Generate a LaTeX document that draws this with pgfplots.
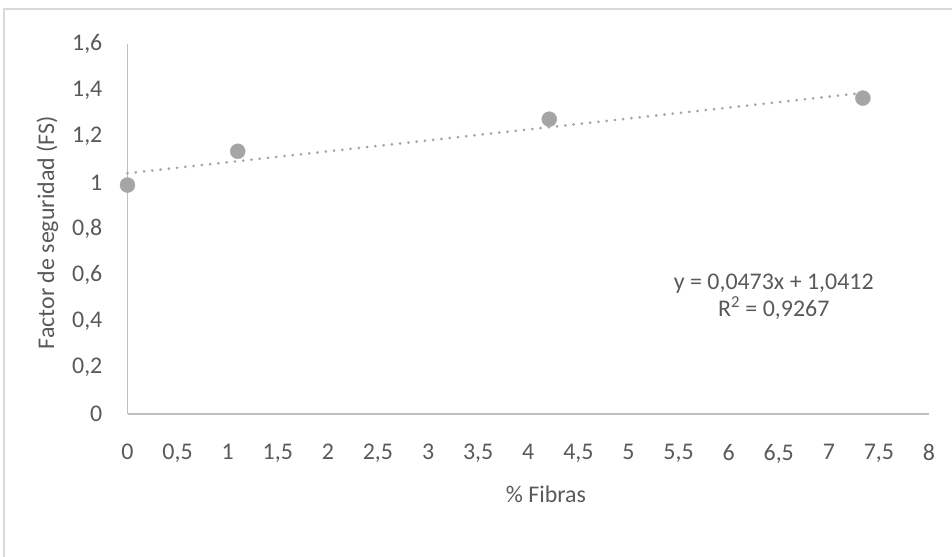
\documentclass[border=0pt]{standalone}
\usepackage{pgfplots}
\pgfplotsset{compat=1.18}
\usepackage{fontspec}
\setmainfont{Carlito}
\definecolor{txt}{RGB}{89,89,89}
\definecolor{axl}{RGB}{191,191,191}
\definecolor{frm}{RGB}{217,217,217}
\definecolor{pt}{RGB}{165,165,165}
\begin{document}
\fontsize{24}{27}\selectfont
\begin{tikzpicture}[x=1bp,y=1bp]
\path[use as bounding box] (0,0) rectangle (952,557);
\draw[frm, line width=1.2bp] (4,0) -- (4,548) -- (952,548);
\begin{axis}[
  at={(127.5bp,143bp)}, anchor=south west,
  scale only axis, width=801.5bp, height=370bp,
  xmin=0, xmax=8, ymin=0, ymax=1.6,
  xtick distance=0.5, ytick distance=0.2,
  axis lines*=left,
  axis line style={axl, line width=1.3bp, -},
  major tick length=0pt,
  tick style={draw=none},
  ticklabel style={text=txt, font=\fontsize{24}{27}\selectfont},
  /pgf/number format/.cd, use comma, assume math mode=true,
  /pgfplots/.cd,
  xticklabel style={yshift=-22bp},
  yticklabel style={xshift=-17bp},
  xlabel={\% Fibras}, ylabel={Factor de seguridad (FS)},
  label style={text=txt, font=\fontsize{24}{27}\selectfont},
  xlabel style={at={(axis description cs:0.522,0)}, anchor=center, yshift=-80bp},
  ylabel style={at={(axis description cs:0,0.49)}, anchor=center, yshift=80bp},
  clip=false,
]
\addplot[pt, line width=3bp, dash pattern=on 0.01bp off 8.3bp, line cap=round] coordinates {(0,1.0412) (7.34,1.3884)};
\addplot[only marks, mark=*, mark size=7.5bp, mark options={draw=pt, fill=pt}] coordinates {
(0,0.99) (1.10,1.136) (4.21,1.275) (7.34,1.366)};
\node[text=txt, align=center, font=\fontsize{24}{27}\selectfont] at (axis cs:6.45,0.505) {y = 0,0473x + 1,0412\\R\textsuperscript{2} = 0,9267};
\end{axis}
\end{tikzpicture}
\end{document}
